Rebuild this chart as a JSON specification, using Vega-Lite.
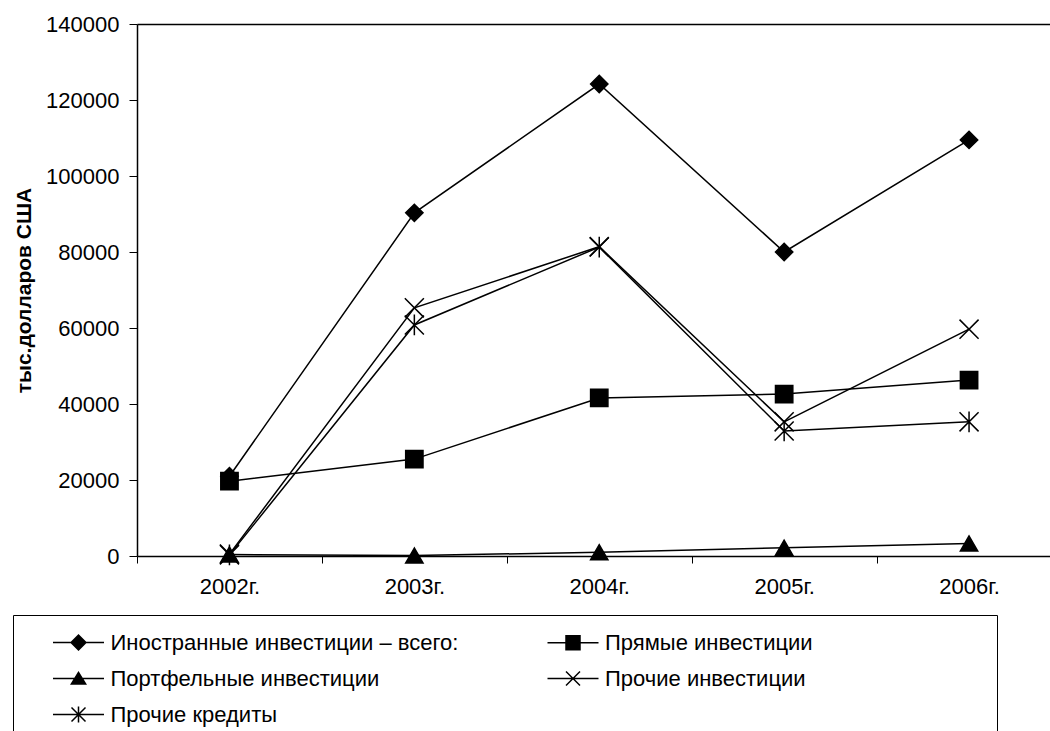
{
  "$schema": "https://vega.github.io/schema/vega-lite/v6.json",
  "autosize": {"type": "none"},
  "padding": {"left": 137, "top": 24, "right": 0, "bottom": 175},
  "width": 913,
  "height": 532,
  "background": "white",
  "config": {
    "font": "Liberation Sans",
    "view": {"stroke": null},
    "axis": {"grid": false, "labelColor": "black", "tickColor": "black", "domainColor": "black", "titleColor": "black"}
  },
  "data": {
    "values": [
      {"series": "Иностранные инвестиции – всего:", "year": 2002, "value": 21000},
      {"series": "Иностранные инвестиции – всего:", "year": 2003, "value": 90300},
      {"series": "Иностранные инвестиции – всего:", "year": 2004, "value": 124200},
      {"series": "Иностранные инвестиции – всего:", "year": 2005, "value": 80000},
      {"series": "Иностранные инвестиции – всего:", "year": 2006, "value": 109500},
      {"series": "Прямые инвестиции", "year": 2002, "value": 19700},
      {"series": "Прямые инвестиции", "year": 2003, "value": 25500},
      {"series": "Прямые инвестиции", "year": 2004, "value": 41600},
      {"series": "Прямые инвестиции", "year": 2005, "value": 42600},
      {"series": "Прямые инвестиции", "year": 2006, "value": 46300},
      {"series": "Портфельные инвестиции", "year": 2002, "value": 400},
      {"series": "Портфельные инвестиции", "year": 2003, "value": 100},
      {"series": "Портфельные инвестиции", "year": 2004, "value": 1000},
      {"series": "Портфельные инвестиции", "year": 2005, "value": 2200},
      {"series": "Портфельные инвестиции", "year": 2006, "value": 3300},
      {"series": "Прочие инвестиции", "year": 2002, "value": 500},
      {"series": "Прочие инвестиции", "year": 2003, "value": 65300},
      {"series": "Прочие инвестиции", "year": 2004, "value": 81400},
      {"series": "Прочие инвестиции", "year": 2005, "value": 35300},
      {"series": "Прочие инвестиции", "year": 2006, "value": 59700},
      {"series": "Прочие кредиты", "year": 2002, "value": 300},
      {"series": "Прочие кредиты", "year": 2003, "value": 60800},
      {"series": "Прочие кредиты", "year": 2004, "value": 81300},
      {"series": "Прочие кредиты", "year": 2005, "value": 32900},
      {"series": "Прочие кредиты", "year": 2006, "value": 35300}
    ]
  },
  "encoding": {
    "y": {
      "field": "value",
      "type": "quantitative",
      "scale": {"domain": [0, 140000], "nice": false},
      "axis": {
        "values": [0, 20000, 40000, 60000, 80000, 100000, 120000, 140000],
        "format": "d",
        "labelFontSize": 22,
        "labelPadding": 10,
        "tickSize": 8,
        "tickWidth": 1,
        "domainWidth": 1.5,
        "title": "тыс.долларов США",
        "titleFontSize": 21,
        "titleFontWeight": "bold",
        "titleAngle": 270,
        "titleBaseline": "middle",
        "titleAlign": "center",
        "titleX": -113,
        "titleY": 266
      }
    }
  },
  "layer": [
    {
      "mark": {"type": "line", "color": "black", "strokeWidth": 1.5},
      "encoding": {
        "x": {
          "field": "year",
          "type": "quantitative",
          "scale": {"domain": [2001.5, 2006.4378], "nice": false, "zero": false},
          "axis": {
            "orient": "bottom",
            "values": [2002, 2003, 2004, 2005, 2006],
            "labelExpr": "datum.value + 'г.'",
            "labelFontSize": 22,
            "labelPadding": 13,
            "tickSize": 7,
            "tickWidth": 1,
            "tickOffset": -92.45,
            "labelOffset": 92.45,
            "domainWidth": 1.5,
            "title": null
          }
        },
        "detail": {"field": "series", "type": "nominal"}
      }
    },
    {
      "mark": {"type": "point", "filled": true, "color": "black", "stroke": "black", "strokeWidth": 1.5, "size": 300, "opacity": 1},
      "encoding": {
        "x": {
          "field": "year",
          "type": "quantitative",
          "scale": {"domain": [2001.5, 2006.4378], "nice": false, "zero": false},
          "axis": {"orient": "top", "labels": false, "ticks": false, "domainWidth": 1.5, "title": null}
        },
        "shape": {
          "field": "series",
          "type": "nominal",
          "scale": {
            "domain": ["Иностранные инвестиции – всего:", "Портфельные инвестиции", "Прочие кредиты", "Прямые инвестиции", "Прочие инвестиции"],
            "range": ["diamond", "triangle-up", "M-1.1,-1.1L1.1,1.1M-1.1,1.1L1.1,-1.1M0,-1.2V1.2", "square", "M-1.1,-1.1L1.1,1.1M-1.1,1.1L1.1,-1.1"]
          },
          "legend": null
        }
      }
    },
    {
      "mark": {"type": "point", "filled": true, "color": "black", "size": 300, "opacity": 0},
      "encoding": {
        "x": {
          "field": "year",
          "type": "quantitative",
          "scale": {"domain": [2001.5, 2006.4378], "nice": false, "zero": false},
          "axis": null
        },
        "shape": {
          "field": "series",
          "type": "nominal",
          "scale": {
            "domain": ["Иностранные инвестиции – всего:", "Портфельные инвестиции", "Прочие кредиты", "Прямые инвестиции", "Прочие инвестиции"],
            "range": [
              "M-2.04,-0.06H2.04V0.06H-2.04ZM0,-0.68L0.68,0L0,0.68L-0.68,0Z",
              "M-2.04,-0.06H2.04V0.06H-2.04ZM0,-0.6L0.68,0.5H-0.68Z",
              "M-2.04,-0.06H2.04V0.06H-2.04ZM-0.518,-0.602L0.602,0.518L0.518,0.602L-0.602,-0.518ZM-0.602,0.518L0.518,-0.602L0.602,-0.518L-0.518,0.602ZM-0.06,-0.64H0.06V0.64H-0.06Z",
              "M-2.04,-0.06H2.04V0.06H-2.04ZM-0.62,-0.62H0.62V0.62H-0.62Z",
              "M-2.04,-0.06H2.04V0.06H-2.04ZM-0.518,-0.602L0.602,0.518L0.518,0.602L-0.602,-0.518ZM-0.602,0.518L0.518,-0.602L0.602,-0.518L-0.518,0.602Z"
            ]
          },
          "legend": {
            "orient": "none",
            "legendX": -124,
            "legendY": 591,
            "columns": 2,
            "title": null,
            "strokeColor": "black",
            "fillColor": "white",
            "padding": 14,
            "labelFontSize": 22,
            "labelColor": "black",
            "labelLimit": 1000,
            "labelExpr": "datum.label == 'Прямые инвестиции' ? datum.label + '\u2003\u2003\u2003\u2003\u2003\u2003\u2003\u2002\u2009\u200b' : datum.label",
            "symbolSize": 625,
            "symbolOpacity": 1,
            "symbolFillColor": "black",
            "symbolOffset": 38,
            "labelOffset": 18.5,
            "rowPadding": 11,
            "columnPadding": 62.5,
            "gridAlign": "each"
          }
        }
      }
    }
  ],
  "resolve": {"axis": {"x": "independent"}, "scale": {"shape": "independent"}}
}
